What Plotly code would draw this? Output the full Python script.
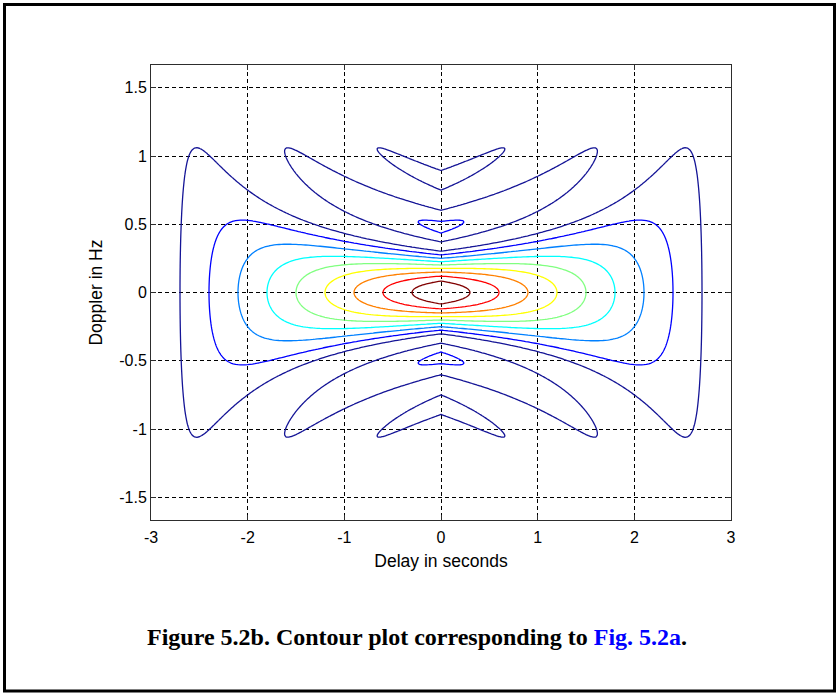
import numpy as np
import plotly.graph_objects as go

# Single rectangular pulse ambiguity function |X(tau, fd)|
pulse_width = 3.0                      # seconds
delay_step = 0.025
doppler_step = 0.01
delay_max = 1.1 * pulse_width

delay = np.arange(-delay_max, delay_max + 1e-9, delay_step)
doppler = np.arange(-5.0 / pulse_width, 5.0 / pulse_width + 1e-9, doppler_step) + 1e-6

x_ticks = [-3, -2, -1, 0, 1, 2, 3]
x_tick_text = ["-3", "-2", "-1", "0", "1", "2", "3"]
y_ticks = [-1.5, -1, -0.5, 0, 0.5, 1, 1.5]
y_tick_text = ["-1.5", "-1", "-0.5", "0", "0.5", "1", "1.5"]

contour_start, contour_end, contour_step = 0.1, 0.9, 0.1

tau, fd = np.meshgrid(delay, doppler)
val1 = 1.0 - np.abs(tau) / pulse_width
val2 = np.pi * pulse_width * (1.0 - np.abs(tau) / pulse_width) * fd
amb = np.abs(val1 * np.sinc(val2 / np.pi))

# MATLAB-style jet colormap
jet = [
    [0.0, "rgb(20,20,150)"],
    [0.125, "rgb(0,0,255)"],
    [0.375, "rgb(0,255,255)"],
    [0.625, "rgb(255,255,0)"],
    [0.875, "rgb(255,0,0)"],
    [1.0, "rgb(128,0,0)"],
]

fig = go.Figure()
fig.add_trace(go.Contour(
    x=delay, y=doppler, z=amb,
    colorscale=jet,
    showscale=False,
    autocontour=False,
    contours=dict(start=contour_start, end=contour_end, size=contour_step,
                  coloring="lines"),
    line=dict(width=1.3, smoothing=0),
    hoverinfo="skip",
))

W, H = 840, 694
ml, mr, mt, mb = 151, 109, 65, 174
pw, ph = W - ml - mr, H - mt - mb

def px(xp):
    return (xp - ml) / pw

def py(yp):
    return (H - mb - yp) / ph

axis_common = dict(
    showline=True, linecolor="rgb(45,45,45)", linewidth=1, mirror="ticks",
    ticks="inside", ticklen=5, tickcolor="rgb(45,45,45)",
    showgrid=True, gridcolor="black", gridwidth=1, griddash="4px,3px",
    zeroline=False,
    tickfont=dict(family="Liberation Sans, Arial", size=16, color="black"),
    title_font=dict(family="Liberation Sans, Arial", size=17.5, color="black"),
)

fig.update_layout(
    width=W, height=H,
    margin=dict(l=ml, r=mr, t=mt, b=mb),
    paper_bgcolor="white", plot_bgcolor="white",
    showlegend=False,
    xaxis=dict(range=[-3, 3], tickvals=x_ticks, ticktext=x_tick_text,
               ticklabelstandoff=3,
               title=dict(text="Delay in seconds", standoff=9), **axis_common),
    yaxis=dict(range=[-5.0 / pulse_width, 5.0 / pulse_width],
               tickvals=y_ticks, ticktext=y_tick_text,
               title=dict(text="Doppler in Hz", standoff=12), **axis_common),
    shapes=[dict(type="rect", xref="paper", yref="paper",
                 x0=px(4.5), x1=px(834.5), y0=py(691), y1=py(4.5),
                 line=dict(color="black", width=3), fillcolor="rgba(0,0,0,0)",
                 layer="above")],
    annotations=[dict(
        xref="paper", yref="paper", x=px(417), y=py(637),
        xanchor="center", yanchor="middle", showarrow=False,
        text="<b>Figure 5.2b. Contour plot corresponding to "
             "<span style='color:#0000ff'>Fig. 5.2a</span>.</b>",
        font=dict(family="Liberation Serif, Times New Roman", size=24, color="black"),
    )],
)

fig.write_html("out.html")
